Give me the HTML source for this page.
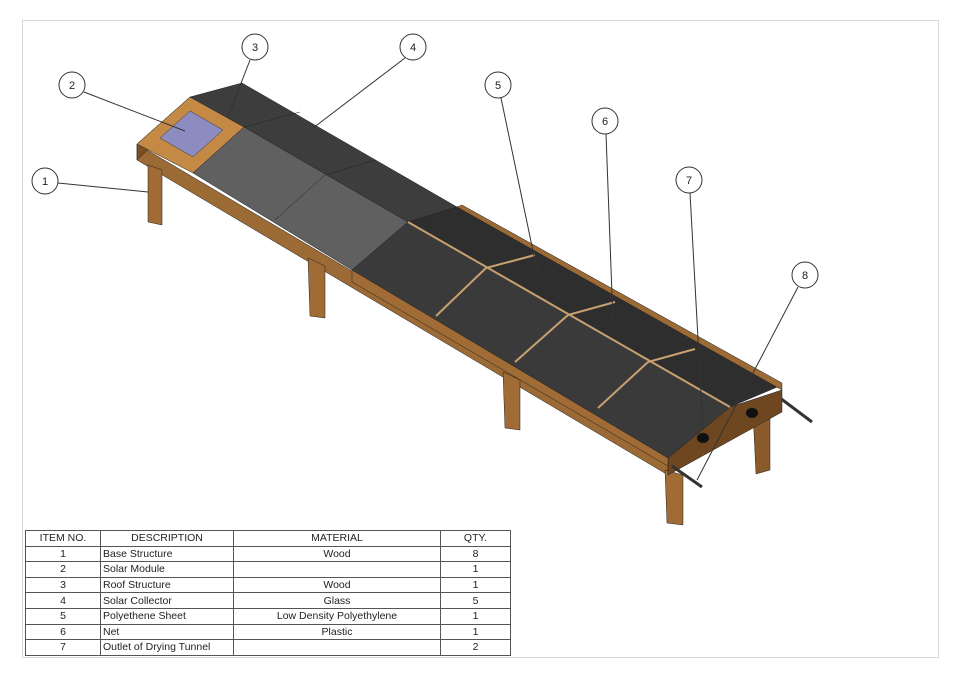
<!DOCTYPE html>
<html><head><style>
body{margin:0;background:#fff;width:960px;height:678px;overflow:hidden;font-family:"Liberation Sans",sans-serif}
svg{position:absolute;left:0;top:0}
table{position:absolute;left:25px;top:530px;border-collapse:collapse;font-size:10.5px;color:#222;table-layout:fixed;width:485px}
td{border:1px solid #555;height:14.6px;padding:0 2px;line-height:14px;white-space:nowrap;overflow:hidden}
</style></head><body>
<svg width="960" height="678" viewBox="0 0 960 678">
<rect x="22.5" y="20.5" width="916" height="637" fill="none" stroke="#d8d8d8"/>
<g stroke="#222" stroke-width="0.5">
<polygon points="753,412 770,408 770,470 756,474" fill="#8a5a2b"/>
<line x1="780" y1="398" x2="812" y2="422" stroke="#333" stroke-width="3"/>
<polygon points="137,144 668,458 668,475 137,160" fill="#9c6a35"/>
<polygon points="137,144 190,97 190,110 137,160" fill="#7a4f24"/>
<polygon points="148,165 162,170 162,225 148,222" fill="#a06b35"/>
<polygon points="308,258 325,266 325,318 310,316" fill="#a06b35"/>
<polygon points="503,372 520,380 520,430 505,428" fill="#a06b35"/>
<polygon points="665,470 683,475 683,525 667,523" fill="#a06b35"/>
<polygon points="137,144 190,97 244,127 193,173" fill="#c48a45"/>
<polygon points="160,138 190,111 223,130 193,157" fill="#8c8cc0" stroke="#333"/>
<polygon points="190,97 242,83 457,207 408,222 244,127" fill="#3d3d3d"/>
<polygon points="193,173 244,127 408,222 352,270" fill="#606060"/>
<line x1="325" y1="175" x2="275" y2="220"/>
<line x1="244" y1="127" x2="300" y2="112"/>
<line x1="325" y1="175" x2="375" y2="160"/>
<polygon points="668,458 730,407 782,390 782,412 668,475" fill="#6e4720"/>
<polygon points="408,222 457,207 782,385 730,407" fill="#2e2e2e"/>
<polygon points="457,207 462,205 782,383 782,390" fill="#9c6a35"/>
<polygon points="352,270 408,222 730,407 668,458" fill="#3a3a3a"/>
<polygon points="352,270 668,458 668,466 352,282" fill="#a06b35"/>
<g stroke="#c9a070" stroke-width="2">
<line x1="408" y1="222" x2="730" y2="407"/>
<line x1="486" y1="268" x2="436" y2="316"/>
<line x1="568" y1="315" x2="515" y2="362"/>
<line x1="648" y1="362" x2="598" y2="408"/>
<line x1="486" y1="268" x2="535" y2="255"/>
<line x1="568" y1="315" x2="615" y2="302"/>
<line x1="648" y1="362" x2="695" y2="349"/>
</g>
<ellipse cx="703" cy="438" rx="6" ry="5" fill="#111"/>
<ellipse cx="752" cy="413" rx="6" ry="5" fill="#111"/>
<line x1="672" y1="466" x2="702" y2="487" stroke="#333" stroke-width="3"/>
</g>
<g fill="#fff" stroke="#333" stroke-width="1" font-size="11" font-family="Liberation Sans,sans-serif">
<line x1="58" y1="183" x2="148" y2="192"/>
<line x1="84" y1="92" x2="185" y2="131"/>
<line x1="250" y1="60" x2="228" y2="117"/>
<line x1="405" y1="58" x2="313" y2="128"/>
<line x1="501" y1="98" x2="538" y2="275"/>
<line x1="606" y1="134" x2="613" y2="322"/>
<line x1="690" y1="193" x2="703" y2="430"/>
<line x1="798" y1="287" x2="697" y2="480"/>
<circle cx="45" cy="181" r="13"/><circle cx="72" cy="85" r="13"/><circle cx="255" cy="47" r="13"/><circle cx="413" cy="47" r="13"/>
<circle cx="498" cy="85" r="13"/><circle cx="605" cy="121" r="13"/><circle cx="689" cy="180" r="13"/><circle cx="805" cy="275" r="13"/>
<g fill="#222" stroke="none" text-anchor="middle">
<text x="45" y="185">1</text><text x="72" y="89">2</text><text x="255" y="51">3</text><text x="413" y="51">4</text>
<text x="498" y="89">5</text><text x="605" y="125">6</text><text x="689" y="184">7</text><text x="805" y="279">8</text>
</g></g>
</svg>
<table>
<colgroup><col style="width:75px"><col style="width:133px"><col style="width:207px"><col style="width:70px"></colgroup>
<tr><td align="center">ITEM NO.</td><td align="center">DESCRIPTION</td><td align="center">MATERIAL</td><td align="center">QTY.</td></tr>
<tr><td align="center">1</td><td>Base Structure</td><td align="center">Wood</td><td align="center">8</td></tr>
<tr><td align="center">2</td><td>Solar Module</td><td></td><td align="center">1</td></tr>
<tr><td align="center">3</td><td>Roof Structure</td><td align="center">Wood</td><td align="center">1</td></tr>
<tr><td align="center">4</td><td>Solar Collector</td><td align="center">Glass</td><td align="center">5</td></tr>
<tr><td align="center">5</td><td>Polyethene Sheet</td><td align="center">Low Density Polyethylene</td><td align="center">1</td></tr>
<tr><td align="center">6</td><td>Net</td><td align="center">Plastic</td><td align="center">1</td></tr>
<tr><td align="center">7</td><td>Outlet of Drying Tunnel</td><td></td><td align="center">2</td></tr>
</table>
</body></html>
